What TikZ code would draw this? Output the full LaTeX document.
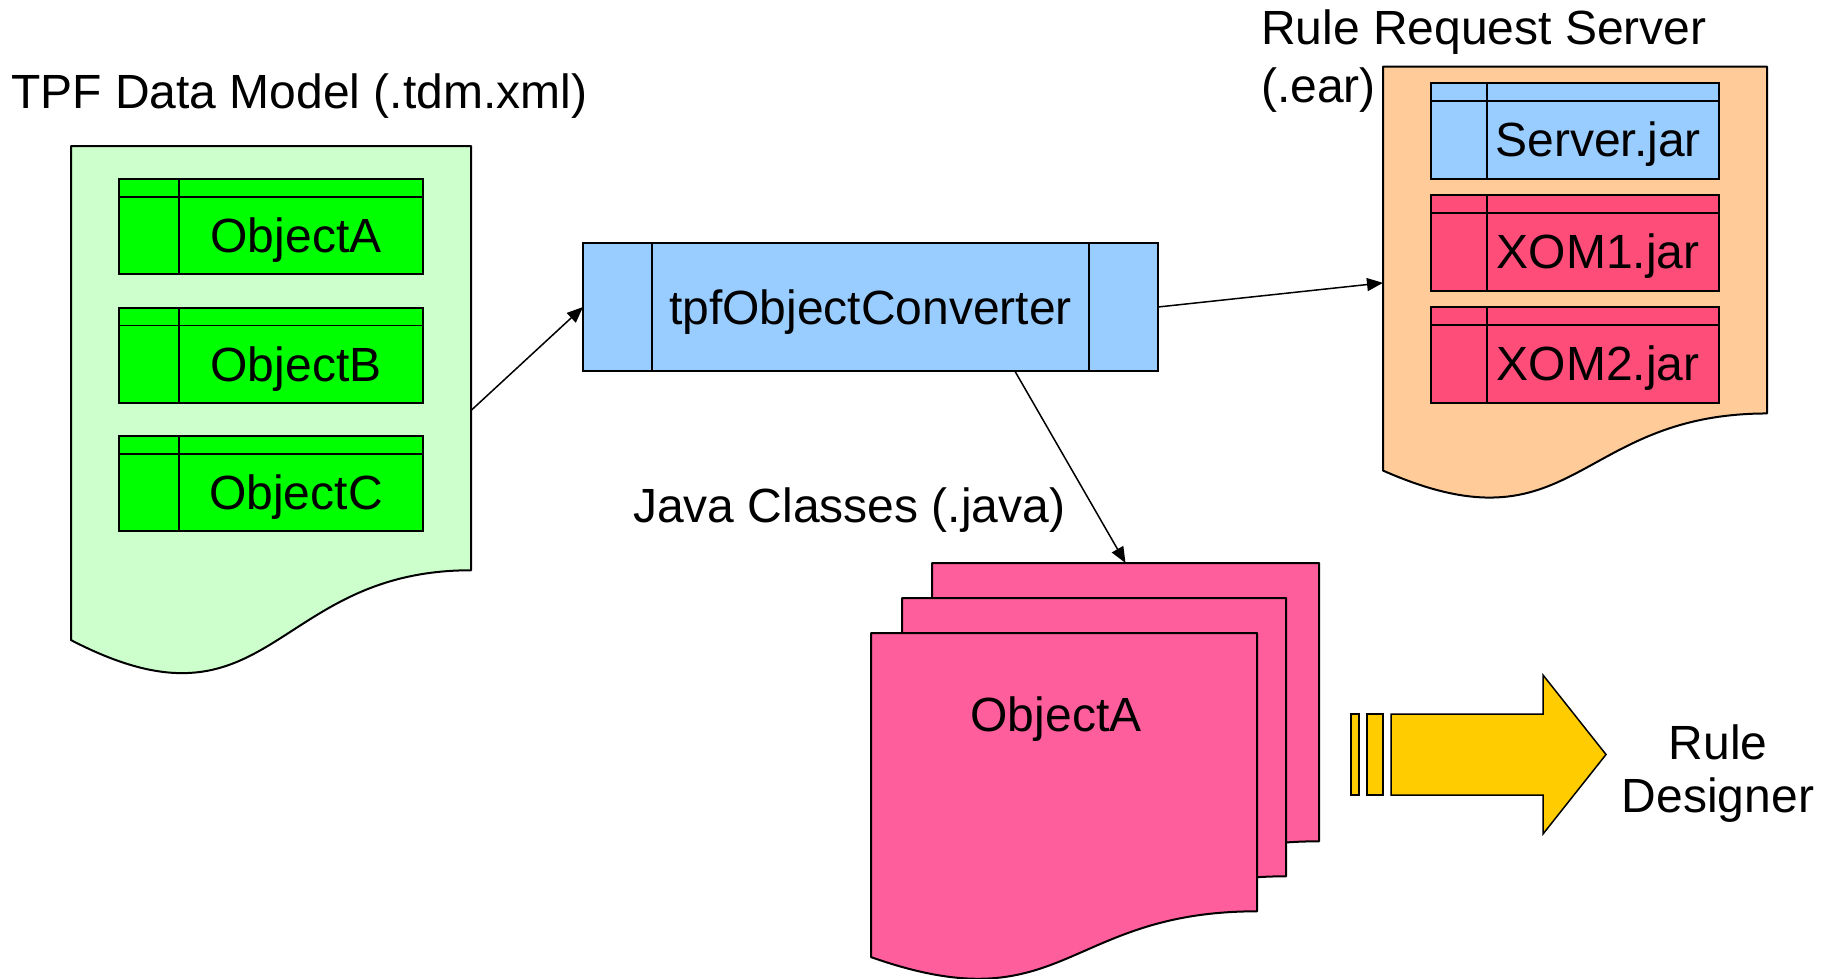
\documentclass[tikz,border=0pt]{standalone}
\usepackage{fontspec}
\setmainfont{Liberation Sans}
\usetikzlibrary{arrows.meta,calc}

\definecolor{docgreen}{HTML}{CCFFCC}
\definecolor{boxgreen}{HTML}{00FF00}
\definecolor{lightblue}{HTML}{99CCFF}
\definecolor{docorange}{HTML}{FFCC99}
\definecolor{xompink}{HTML}{FF4D7A}
\definecolor{pagepink}{HTML}{FF5E9C}
\definecolor{arrowgold}{HTML}{FFCC00}

\tikzset{
  docframe/.style={rectangle, draw=none, inner sep=0pt, outer sep=0pt, anchor=north west},
  docline/.style={draw=black, line width=2pt, line join=round},
  ebox/.style={rectangle, draw=black, line width=2pt, inner sep=0pt, outer sep=0pt},
  divider/.style={draw=black, line width=1.3pt},
  lbl/.style={inner sep=0pt, text height=34pt, text depth=0pt},
  caption/.style={inner sep=0pt, anchor=base west},
  flow/.style={draw=black, line width=1.5pt, -{Triangle[length=16pt,width=13pt]}},
  bigarrow/.style={draw=black, line width=1.5pt, fill=arrowgold, line join=miter},
}

% document page with a wavy lower edge: name, fill, left, top, width, height
\newcommand\docpage[6]{%
  \node[docframe, minimum width=#5pt, minimum height=#6pt] (#1) at (#3,#4) {};
  \path[docline, fill=#2] (#1.north west) -- (#1.north east)
    -- ($(#1.north east)+(0,0.802*#6)$)
    .. controls ($(#1.north west)+(0.5*#5,0.802*#6)$) and ($(#1.north west)+(0.5*#5,1.13*#6)$)
    .. ($(#1.north west)+(0,0.934*#6)$) -- cycle;
}

% class box with a header strip and a side column:
% name, fill, centre x, centre y, width, height, column width, label
\newcommand\entitybox[8]{%
  \node[ebox, fill=#2, minimum width=#5pt, minimum height=#6pt] (#1) at (#3,#4) {};
  \draw[divider] ($(#1.north west)+(0,18)$) -- ($(#1.north east)+(0,18)$);
  \draw[divider] ($(#1.north west)+(#7,0)$) -- ($(#1.south west)+(#7,0)$);
  \node[lbl] (#1-label) at ($(#1.south west)!0.5!(#1.north east)+(0.5*#7-5,9)$) {#8};
}

\begin{document}
\begin{tikzpicture}[x=1pt, y=-1pt, font=\fontsize{48}{53}\selectfont]
\useasboundingbox (0,0) rectangle (1831,978);

% captions
\node[caption] (tdmcap) at (11,108) {TPF Data Model (.tdm.xml)};
\node[caption] (rrscap) at (1261,44) {Rule Request Server};
\node[caption] (earcap) at (1261,102) {(.ear)};
\node[caption] (javacap) at (633,522) {Java Classes (.java)};

% data model document
\docpage{tdm}{docgreen}{71}{146}{400}{529}
\entitybox{objA}{boxgreen}{271}{226.5}{304}{95}{60}{ObjectA}
\entitybox{objB}{boxgreen}{271}{355}{304}{95}{60}{ObjectB}
\entitybox{objC}{boxgreen}{271}{483.5}{304}{95}{60}{ObjectC}

% converter
\node[ebox, fill=lightblue, minimum width=575pt, minimum height=128pt] (conv) at (870.5,307) {};
\draw[divider] ($(conv.north west)+(69,0)$) -- ($(conv.south west)+(69,0)$);
\draw[divider] ($(conv.north east)+(-69,0)$) -- ($(conv.south east)+(-69,0)$);
\node[lbl] (convlabel) at (conv.center) {tpfObjectConverter};

% rule request server archive
\docpage{rrs}{docorange}{1383}{66.6}{384}{432.5}
\entitybox{server}{lightblue}{1575}{130.75}{288}{95.5}{56}{Server.jar}
\entitybox{xom1}{xompink}{1575}{242.75}{288}{95.5}{56}{XOM1.jar}
\entitybox{xom2}{xompink}{1575}{354.75}{288}{95.5}{56}{XOM2.jar}

% generated java classes
\docpage{back}{pagepink}{932}{563}{387}{347}
\docpage{middle}{pagepink}{902}{598}{384}{347}
\docpage{front}{pagepink}{871}{633}{386}{347}
\node[lbl] (frontlabel) at (1056,714.5) {ObjectA};

% connectors
\draw[flow] (tdm.east) -- (conv.west);
\draw[flow] (conv.east) -- (rrs.west);
\draw[flow] ($(conv.south west)!0.751!(conv.south east)$) -- (back.north);

% block arrow towards the designer
\draw[bigarrow] (1351,714) rectangle (1359,795);
\draw[bigarrow] (1367,714) rectangle (1383,795);
\draw[bigarrow] (1391,714) -- (1543,714) -- (1543,675) -- (1606,754.5)
  -- (1543,834) -- (1543,795) -- (1391,795) -- cycle;
\node[inner sep=0pt, align=center, anchor=north] (designer) at (1718,724.5) {Rule\\Designer};
\end{tikzpicture}
\end{document}
